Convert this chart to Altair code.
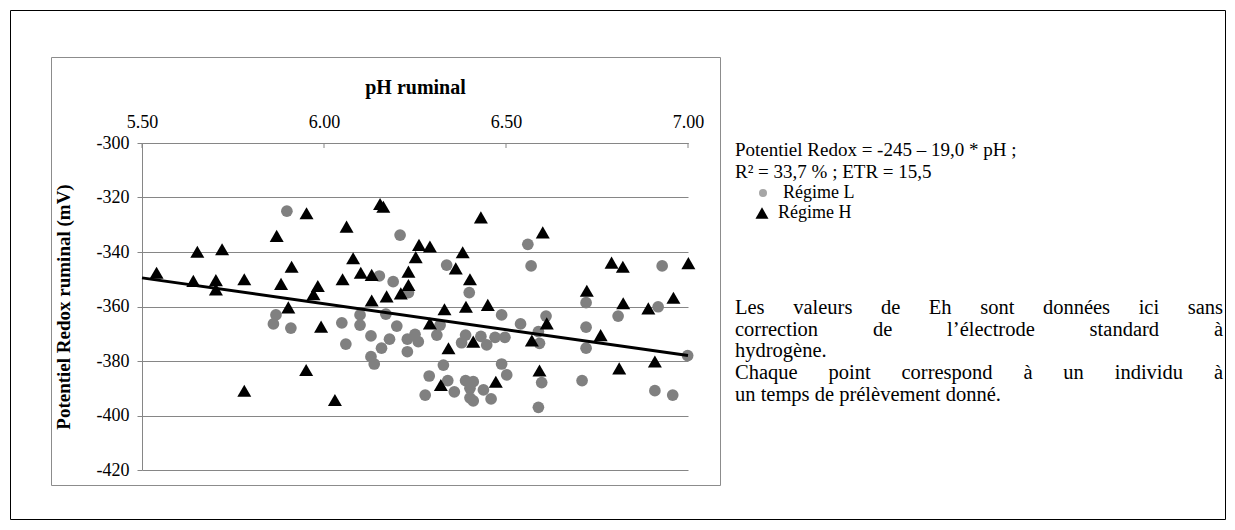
import altair as alt
import pandas as pd

# ---------------- data ----------------
# Régime L (grey circles)
ph_L = [5.898, 5.868, 5.861, 5.909, 6.049, 6.099, 6.099, 6.060, 6.170, 6.129,
        6.200, 6.180, 6.158, 6.129, 6.138, 6.229, 6.250, 6.259, 6.229, 6.319,
        6.310, 6.488, 6.389, 6.378, 6.431, 6.447, 6.470, 6.497, 6.328, 6.289,
        6.488, 6.502, 6.340, 6.389, 6.410, 6.401, 6.358, 6.438, 6.278, 6.401,
        6.410, 6.459, 6.720, 6.918, 6.540, 6.610, 6.589, 6.592, 6.720, 6.720,
        6.808, 6.999, 6.598, 6.709, 6.909, 6.958, 6.589, 6.209, 6.337, 6.152,
        6.190, 6.232, 6.399, 6.560, 6.569, 6.929]
eh_L = [-325.0, -363.1, -366.4, -367.9, -366.0, -363.1, -366.8, -373.8, -362.8, -370.8,
        -367.2, -372.0, -375.3, -378.4, -381.1, -372.0, -370.2, -372.9, -376.6, -366.8,
        -370.5, -363.1, -370.5, -373.3, -371.0, -374.1, -371.3, -371.3, -381.5, -385.5,
        -381.1, -385.1, -387.2, -387.2, -387.6, -390.0, -391.3, -390.6, -392.5, -393.5,
        -394.6, -393.9, -358.6, -360.1, -366.4, -363.5, -369.2, -373.5, -367.6, -375.3,
        -363.5, -378.0, -387.9, -387.2, -390.9, -392.5, -397.0, -333.8, -344.8, -348.8,
        -350.9, -354.9, -354.9, -337.2, -345.1, -345.1]

# Régime H (black triangles)
ph_H = [5.952, 5.870, 5.652, 5.720, 5.911, 5.540, 5.641, 5.703, 5.703, 5.781,
        5.882, 5.983, 5.971, 5.902, 5.992, 5.951, 5.781, 6.131, 6.172, 6.291,
        6.331, 6.390, 6.450, 6.342, 6.410, 6.321, 6.472, 6.030, 6.822, 6.891,
        6.960, 6.612, 6.571, 6.760, 6.909, 6.811, 6.592, 6.154, 6.163, 6.062,
        6.431, 6.261, 6.291, 6.381, 6.080, 6.252, 6.362, 6.101, 6.131, 6.232,
        6.051, 6.401, 6.232, 6.211, 6.601, 6.790, 6.821, 7.001, 6.722]
eh_H = [-325.8, -334.1, -339.9, -339.0, -345.4, -347.6, -350.6, -350.3, -353.7, -350.0,
        -351.7, -352.5, -355.5, -360.3, -367.4, -383.3, -390.9, -357.8, -356.3, -366.2,
        -361.0, -360.1, -359.4, -375.3, -372.9, -388.8, -387.6, -394.3, -358.8, -360.7,
        -356.8, -366.2, -372.5, -370.5, -380.2, -382.7, -383.5, -322.4, -323.4, -330.7,
        -327.3, -337.4, -338.0, -340.1, -342.3, -341.9, -346.0, -347.6, -348.4, -347.2,
        -350.0, -350.0, -352.1, -355.2, -332.8, -343.9, -345.4, -344.1, -354.2]

# regression line end points (Potentiel Redox = -245 - 19,0 * pH)
ph_fit = [5.50, 7.00]
eh_fit = [-349.5, -378.0]

x_ticks = [5.5, 6.0, 6.5, 7.0]
y_ticks = [-300, -320, -340, -360, -380, -400, -420]

eq_lines = ["Potentiel Redox = -245 \u2013 19,0 * pH ;", "R\u00b2 = 33,7 % ; ETR = 15,5"]
legend_labels = ["R\u00e9gime L", "R\u00e9gime H"]
note_lines = ["Les valeurs de Eh sont donn\u00e9es ici sans",
              "correction de l\u2019\u00e9lectrode standard \u00e0",
              "hydrog\u00e8ne.",
              "Chaque point correspond \u00e0 un individu \u00e0",
              "un temps de pr\u00e9l\u00e8vement donn\u00e9."]
note_justified = [True, True, False, True, False]

# ---------------- layout ----------------
FONT = "Liberation Serif"
OX, OY = 142, 143          # page position of plot origin
W_PLOT, H_PLOT = 546, 327
GRID = "#868686"

df_L = pd.DataFrame({"ph": ph_L, "eh": eh_L})
df_H = pd.DataFrame({"ph": ph_H, "eh": eh_H})
df_fit = pd.DataFrame({"ph": ph_fit, "eh": eh_fit})
df_xt = pd.DataFrame({"ph": x_ticks})
dummy = pd.DataFrame({"k": [0]})

xscale = alt.Scale(domain=[5.5, 7.0], nice=False, zero=False)
yscale = alt.Scale(domain=[-420, -300], nice=False, zero=False)

xaxis = alt.Axis(orient="top", values=x_ticks, format=".2f", grid=False,
                 ticks=False, tickSize=0, domainColor=GRID, domainWidth=1,
                 labelFont=FONT, labelFontSize=18, labelColor="black",
                 labelPadding=12, labelFlush=False, labelOverlap=False,
                 title="pH ruminal", titleFont=FONT, titleFontSize=20,
                 titleFontWeight="bold", titleColor="black", titlePadding=16)
yaxis = alt.Axis(values=y_ticks, labelExpr="datum.value + ''", grid=True,
                 gridColor=GRID, gridWidth=1, tickColor=GRID, tickSize=5,
                 domainColor=GRID, domainWidth=1,
                 labelFont=FONT, labelFontSize=18, labelColor="black",
                 labelPadding=8, labelFlush=False, labelOverlap=False,
                 title="Potentiel Redox ruminal (mV)", titleFont=FONT,
                 titleFontSize=19, titleFontWeight="bold", titleColor="black",
                 titlePadding=23)

X = alt.X("ph:Q", scale=xscale, axis=xaxis)
Y = alt.Y("eh:Q", scale=yscale, axis=yaxis)

layers = []

def rect(x0, y0, x1, y1, color):
    return alt.Chart(dummy).mark_rect(fillOpacity=0, stroke=color, strokeWidth=1).encode(
        x=alt.value(x0 - OX), x2=alt.value(x1 - OX),
        y=alt.value(y0 - OY), y2=alt.value(y1 - OY))

layers.append(rect(10.5, 10.5, 1225.5, 519.5, "#000000"))
layers.append(rect(51.5, 57.5, 720.5, 485.5, "#8c8c8c"))

circles = alt.Chart(df_L).mark_point(shape="circle", filled=True, size=137,
                                     color="#808080", opacity=1).encode(x=X, y=Y)
tris = alt.Chart(df_H).mark_point(shape="triangle-up", filled=True, size=196,
                                  color="#000000", opacity=1).encode(x=X, y=Y)
fit = alt.Chart(df_fit).mark_line(color="#000000", strokeWidth=3).encode(x=X, y=Y)
xt = alt.Chart(df_xt).mark_rule(color=GRID, strokeWidth=1).encode(
    x=X, y=alt.value(0), y2=alt.value(5))
layers += [circles, tris, fit, xt]

# ---------------- right-hand text ----------------
FS_EQ = 19
FS_LEG = 18
FS_NOTE = 20.5
TW = {' ': 250, 'a': 444, 'b': 500, 'c': 444, 'd': 500, 'e': 444, 'f': 333, 'g': 500,
      'h': 500, 'i': 278, 'j': 278, 'k': 500, 'l': 278, 'm': 778, 'n': 500, 'o': 500,
      'p': 500, 'q': 500, 'r': 333, 's': 389, 't': 278, 'u': 500, 'v': 500, 'w': 722,
      'x': 500, 'y': 500, 'z': 444, 'C': 667, 'E': 611, 'L': 611, '\u00e9': 444,
      '\u00e8': 444, '\u00e0': 444, '\u2019': 333, '.': 250}

def twidth(s, fs):
    return sum(TW.get(c, 500) for c in s) * fs / 1000.0

def text(s, x, y, fs, color="black"):
    return alt.Chart(dummy).mark_text(align="left", baseline="middle", font=FONT,
                                      fontSize=fs, color=color, text=s).encode(
        x=alt.value(x - OX), y=alt.value(y - OY))

TX = 735
layers.append(text(eq_lines[0], TX, 150, FS_EQ))
layers.append(text(eq_lines[1], TX, 172, FS_EQ))
layers.append(alt.Chart(dummy).mark_point(shape="circle", filled=True, size=64,
                                          color="#a6a6a6", opacity=1).encode(
    x=alt.value(763 - OX), y=alt.value(193 - OY)))
layers.append(text(legend_labels[0], 783, 193, FS_LEG))
layers.append(alt.Chart(dummy).mark_point(shape="triangle-up", filled=True, size=170,
                                          color="#000000", opacity=1).encode(
    x=alt.value(762 - OX), y=alt.value(213 - OY)))
layers.append(text(legend_labels[1], 778, 213, FS_LEG))

RIGHT = 1223
ys = [308, 330, 351, 373, 395]
for line, just, y in zip(note_lines, note_justified, ys):
    if not just:
        layers.append(text(line, TX, y, FS_NOTE))
        continue
    words = line.split(" ")
    widths = [twidth(w, FS_NOTE) for w in words]
    gap = (RIGHT - TX - sum(widths)) / (len(words) - 1)
    x = TX
    for w, wd in zip(words, widths):
        layers.append(text(w, x, y, FS_NOTE))
        x += wd + gap

chart = alt.layer(*layers).properties(
    width=W_PLOT, height=H_PLOT,
    autosize=alt.AutoSizeParams(type="none"),
    padding={"left": OX - 8, "top": OY - 8, "right": 1226 - OX - W_PLOT, "bottom": 521 - OY - H_PLOT},
    background="white",
).configure_view(stroke=None)

chart.save("out.html", embed_options={"renderer": "svg", "actions": False})
